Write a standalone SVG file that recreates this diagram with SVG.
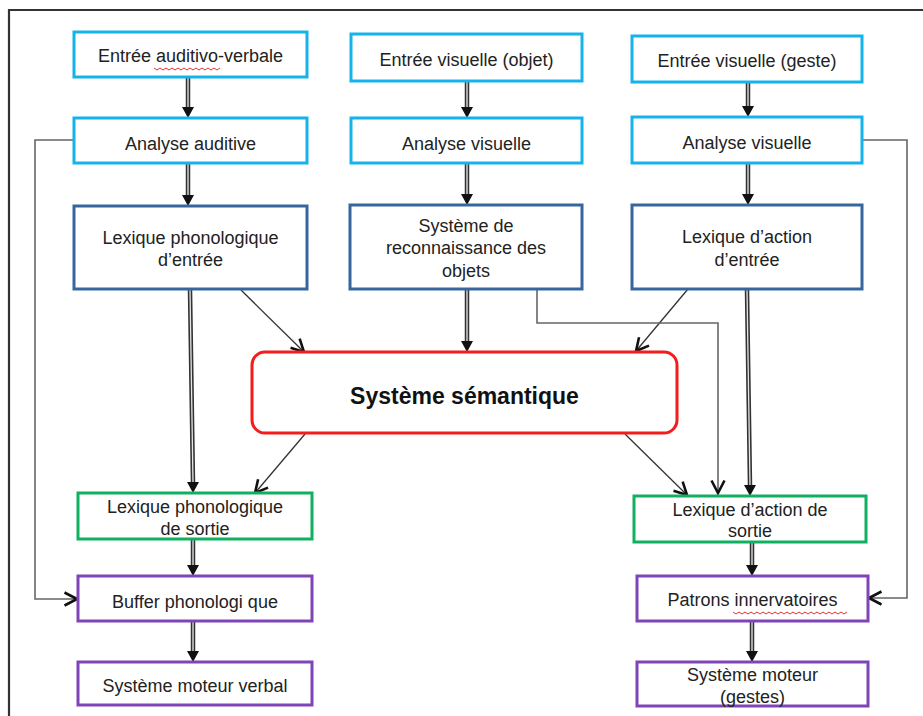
<svg xmlns="http://www.w3.org/2000/svg" width="923" height="716" viewBox="0 0 923 716">
<style>
.box{fill:#fff;stroke-width:3}
.cyan{stroke:#14b4ea}
.blue{stroke:#36679c}
.green{stroke:#10b060}
.purple{stroke:#7e44b8}
.t{font-family:"Liberation Sans",Arial,sans-serif;font-size:18px;fill:#222;text-anchor:middle}
.tb{font-family:"Liberation Sans",Arial,sans-serif;font-size:23px;font-weight:bold;fill:#111;text-anchor:middle}
.dbl{stroke:#333;stroke-width:4.5;fill:none}
.dblin{stroke:#e6e6e6;stroke-width:1.3;fill:none}
.thin{stroke:#333;stroke-width:1.3;fill:none}
.elb{stroke:#666;stroke-width:1.6;fill:none}
.head{fill:#111}
.wavy{stroke:#e83030;stroke-width:1;fill:none}
</style>
<defs>
<marker id="open" viewBox="0 0 16 16" refX="14.5" refY="8" markerWidth="16" markerHeight="16" markerUnits="userSpaceOnUse" orient="auto">
<path d="M2,1.5 L14.5,8 L2,14.5" fill="none" stroke="#111" stroke-width="2.6" stroke-linejoin="miter"/>
</marker>
</defs>
<rect width="923" height="716" fill="#fff"/>
<path d="M9,720 V10 H926" fill="none" stroke="#333" stroke-width="2.2"/>

<g id="connectors">
<g id="dbl-arrows">
<path class="dbl" d="M188,78 V108 M188,164 V196 M467,82 V108 M467,164 V195 M748,83 V107 M748,164 V195 M467,290 V342 M190,290 L193,483 M747,290 L750,486 M193,540 V566 M193,622 V652 M752,543 V566 M752,622 V652"/>
<path class="dblin" d="M188,78 V108 M188,164 V196 M467,82 V108 M467,164 V195 M748,83 V107 M748,164 V195 M467,290 V342 M190,290 L193,483 M747,290 L750,486 M193,540 V566 M193,622 V652 M752,543 V566 M752,622 V652"/>
<path class="head" d="M182,107 H194 L188,118 Z M461,107 H473 L467,118 Z M742,106 H754 L748,117 Z M182,195 H194 L188,206 Z M461,194 H473 L467,205 Z M742,194 H754 L748,205 Z M461,341 H473 L467,352 Z M187,482 H199 L193,493 Z M744,485 H756 L750,496 Z M187,565 H199 L193,576 Z M187,651 H199 L193,662 Z M746,565 H758 L752,576 Z M746,651 H758 L752,662 Z"/>
</g>
<path class="thin" d="M241,290 L304,352" marker-end="url(#open)"/>
<path class="thin" d="M688,289 L636,351" marker-end="url(#open)"/>
<path class="thin" d="M305,434 L255,493" marker-end="url(#open)"/>
<path class="thin" d="M625,434 L687,495" marker-end="url(#open)"/>
<path class="elb" d="M537,290 V323 H718 V493" marker-end="url(#open)"/>
<path class="elb" d="M74,140 H35 V599 H77" marker-end="url(#open)"/>
<path class="elb" d="M863,140 H907 V598 H869" marker-end="url(#open)"/>
</g>

<g id="n1"><rect class="box cyan" x="74" y="32" width="233" height="45"/><text class="t" x="190.5" y="62">Entrée auditivo-verbale</text><path class="wavy" d="M154,68 l3,2 l3,-2 l3,2 l3,-2 l3,2 l3,-2 l3,2 l3,-2 l3,2 l3,-2 l3,2 l3,-2 l3,2 l3,-2 l3,2 l3,-2 l3,2 l3,-2 l3,2 l3,-2 l3,2 l3,-2"/></g>
<g id="n2"><rect class="box cyan" x="351" y="34" width="231" height="47"/><text class="t" x="466.5" y="66">Entrée visuelle (objet)</text></g>
<g id="n3"><rect class="box cyan" x="632" y="36" width="230" height="46"/><text class="t" x="747" y="67">Entrée visuelle (geste)</text></g>

<g id="n4"><rect class="box cyan" x="74" y="118" width="233" height="45"/><text class="t" x="190.5" y="150">Analyse auditive</text></g>
<g id="n5"><rect class="box cyan" x="351" y="118" width="231" height="45"/><text class="t" x="466.5" y="150">Analyse visuelle</text></g>
<g id="n6"><rect class="box cyan" x="632" y="117" width="230" height="46"/><text class="t" x="747" y="149">Analyse visuelle</text></g>

<g id="n7"><rect class="box blue" x="74" y="206" width="233" height="83"/><text class="t" x="190.5" y="244">Lexique phonologique</text><text class="t" x="190.5" y="266">d’entrée</text></g>
<g id="n8"><rect class="box blue" x="350" y="205" width="232" height="84"/><text class="t" x="466" y="232">Système de</text><text class="t" x="466" y="254">reconnaissance des</text><text class="t" x="466" y="277">objets</text></g>
<g id="n9"><rect class="box blue" x="632" y="205" width="230" height="84"/><text class="t" x="747" y="243">Lexique d’action</text><text class="t" x="747" y="266">d’entrée</text></g>

<g id="n10"><rect x="252" y="352" width="425" height="81" rx="13" fill="#fff" stroke="#f41c1c" stroke-width="3"/><text class="tb" x="464.5" y="404">Système sémantique</text></g>

<g id="n11"><rect class="box green" x="78" y="493" width="234" height="46"/><text class="t" x="195" y="513">Lexique phonologique</text><text class="t" x="195" y="535">de sortie</text></g>
<g id="n12"><rect class="box green" x="634" y="496" width="232" height="46"/><text class="t" x="750" y="516">Lexique d’action de</text><text class="t" x="750" y="537">sortie</text></g>

<g id="n13"><rect class="box purple" x="78" y="576" width="234" height="45"/><text class="t" x="195" y="608">Buffer phonologi que</text></g>
<g id="n14"><rect class="box purple" x="637" y="576" width="231" height="45"/><text class="t" x="752.5" y="606">Patrons innervatoires</text><path class="wavy" d="M733,612 l3,2 l3,-2 l3,2 l3,-2 l3,2 l3,-2 l3,2 l3,-2 l3,2 l3,-2 l3,2 l3,-2 l3,2 l3,-2 l3,2 l3,-2 l3,2 l3,-2 l3,2 l3,-2 l3,2 l3,-2 l3,2 l3,-2 l3,2 l3,-2 l3,2 l3,-2 l3,2 l3,-2 l3,2 l3,-2 l3,2 l3,-2 l3,2 l3,-2 l3,2 l3,-2"/></g>

<g id="n15"><rect class="box purple" x="78" y="662" width="234" height="43"/><text class="t" x="195" y="692">Système moteur verbal</text></g>
<g id="n16"><rect class="box purple" x="637" y="662" width="231" height="44"/><text class="t" x="752.5" y="681">Système moteur</text><text class="t" x="752.5" y="703">(gestes)</text></g>
</svg>
